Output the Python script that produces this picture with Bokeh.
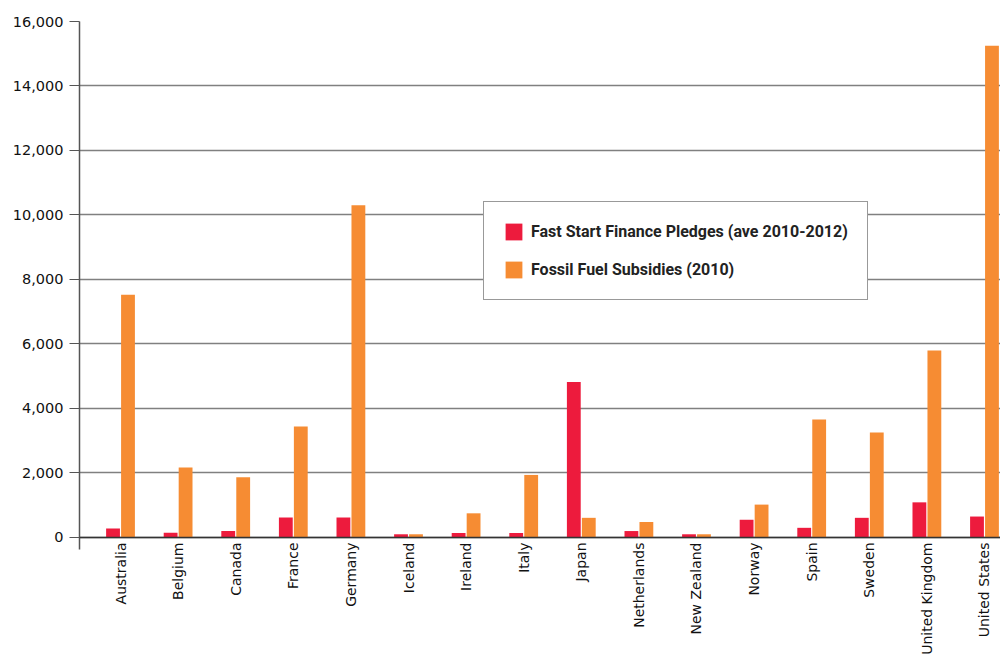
import math
from bokeh.plotting import figure
from bokeh.models import (ColumnDataSource, Range1d, FixedTicker, NumeralTickFormatter,
                          Span, Legend)
from bokeh.core.properties import value
from bokeh.embed import file_html
from bokeh.resources import INLINE

countries = ["Australia", "Belgium", "Canada", "France", "Germany", "Iceland", "Ireland",
             "Italy", "Japan", "Netherlands", "New Zealand", "Norway", "Spain", "Sweden",
             "United Kingdom", "United States"]
fast_start = [280, 150, 200, 620, 620, 100, 140, 140, 4820, 200, 100, 550, 300, 610, 1090, 650]
fossil = [7530, 2170, 1870, 3445, 10300, 100, 750, 1940, 610, 480, 100, 1020, 3660, 3257, 5800, 15250]
y_ticks = [0, 2000, 4000, 6000, 8000, 10000, 12000, 14000, 16000]

RED = "#ed1b3d"
ORANGE = "#f68c33"

idx = list(range(len(countries)))
src = ColumnDataSource(dict(
    idx=idx,
    name=countries,
    xr=[i - 0.13 for i in idx],
    xo=[i + 0.13 for i in idx],
    fast=fast_start,
    fossil=fossil,
    zero=[0] * len(idx),
))

p = figure(width=1000, height=656, output_backend="svg", toolbar_location=None,
           x_range=Range1d(-0.712, 15.278), y_range=Range1d(-3690, 16000),
           min_border_left=79, min_border_right=0, min_border_top=21, min_border_bottom=0)
p.outline_line_color = None
p.background_fill_color = "white"
p.border_fill_color = "white"

p.xaxis.visible = False
p.xgrid.visible = False

yax = p.yaxis[0]
yax.ticker = FixedTicker(ticks=y_ticks)
yax.formatter = NumeralTickFormatter(format="0,0")
yax.bounds = (-372, 16000)
yax.axis_line_color = "#555555"
yax.axis_line_width = 1.5
yax.major_tick_line_color = "#555555"
yax.major_tick_line_width = 1.2
yax.major_tick_out = 10
yax.major_tick_in = 0
yax.minor_tick_line_color = None
yax.major_label_standoff = 6
yax.major_label_text_font = "DejaVu Sans"
yax.major_label_text_font_size = "14.5px"
yax.major_label_text_color = "#111111"

p.ygrid.ticker = FixedTicker(ticks=y_ticks)
p.ygrid.grid_line_color = "#808080"
p.ygrid.grid_line_width = 1.3

r1 = p.vbar(x="xr", top="fast", bottom=0, width=0.24, source=src,
            fill_color=RED, line_color=None)
r2 = p.vbar(x="xo", top="fossil", bottom=0, width=0.24, source=src,
            fill_color=ORANGE, line_color=None)

p.add_layout(Span(location=0, dimension="width", line_color="#333333", line_width=1.5))

p.text(x="idx", y="zero", text="name", source=src, angle=math.pi / 2,
       text_align="right", text_baseline="middle", y_offset=5,
       text_font=value("DejaVu Sans"), text_font_size="14px", text_color="#111111")

legend = Legend(items=[("Fast Start Finance Pledges (ave 2010-2012)", [r1]),
                       ("Fossil Fuel Subsidies (2010)", [r2])],
                location=(404, 356))
legend.glyph_width = 21
legend.glyph_height = 21
legend.label_standoff = 7
legend.spacing = 17
legend.padding = 19
legend.margin = 0
legend.border_line_color = "#333333"
legend.border_line_width = 1
legend.background_fill_color = "white"
legend.background_fill_alpha = 1
legend.label_text_font = "Roboto"
legend.label_text_font_size = "16px"
legend.label_text_font_style = "bold"
legend.label_text_color = "#222222"
p.add_layout(legend)

open("out.html", "w").write(file_html(p, INLINE))
